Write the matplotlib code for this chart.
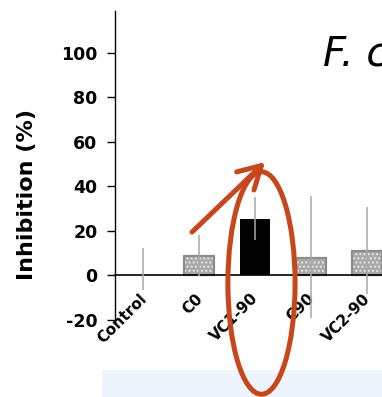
import matplotlib
matplotlib.use("Agg")
import matplotlib.pyplot as plt
from matplotlib.patches import Ellipse, Rectangle
from matplotlib.transforms import ScaledTranslation
import numpy as np

# --- datos ---
categorias = ["Control", "C0", "VC1-90", "C90", "VC2-90"]
inhibicion = [0.0, 8.7, 25.4, 7.9, 11.2]
error_abajo = [6.5, 9.0, 9.5, 27.0, 19.3]
error_arriba = [12.2, 9.3, 9.7, 27.6, 19.8]
destacado = "VC1-90"
titulo = "F. culmorum"

plt.rcParams["font.family"] = ["DejaVu Sans"]
plt.rcParams["axes.unicode_minus"] = False
plt.rcParams["hatch.linewidth"] = 1.0

rojo = "#C8461B"

fig = plt.figure(figsize=(3.82, 3.97), dpi=100)
ax = fig.add_axes([0.301, 0.194, 0.733, 0.779])
ax.set_facecolor("none")

x = np.arange(len(categorias))
for i, cat in enumerate(categorias):
    if inhibicion[i] == 0:
        continue
    if cat == destacado:
        ax.bar(x[i], inhibicion[i], width=0.54, color="black", zorder=2)
    else:
        # relleno punteado gris + borde
        ax.bar(x[i], inhibicion[i], width=0.54, facecolor="#a8a8a8",
               edgecolor="#e6e6e6", linewidth=0, hatch="....", zorder=2)
        ax.bar(x[i], inhibicion[i], width=0.54, fill=False,
               edgecolor="#8c8c8c", linewidth=1.6, zorder=2)

ax.errorbar(x, inhibicion, yerr=[error_abajo, error_arriba], fmt="none",
            ecolor="#a8a8a8", elinewidth=1.1, capsize=0, zorder=3)

ax.set_xlim(-0.5, 4.5)
ax.set_ylim(-20, 119)
ax.set_yticks([-20, 0, 20, 40, 60, 80, 100])
ax.set_ylabel("Inhibition (%)", fontsize=16, fontweight="bold")
ax.yaxis.set_label_coords(-0.279, 0.406)

# eje x cruzando en cero
ax.spines["bottom"].set_position(("data", 0))
ax.spines["bottom"].set_linewidth(1.2)
ax.spines["top"].set_visible(False)
ax.spines["right"].set_visible(False)
ax.spines["left"].set_linewidth(1.0)

ax.set_xticks(x)
ax.set_xticklabels(categorias, rotation=45, ha="right", va="top",
                   rotation_mode="anchor", fontweight="bold", fontsize=11)
ax.tick_params(axis="x", length=0, pad=11)
ax.tick_params(axis="y", length=5.5, width=1.0, pad=7, labelsize=12.5)
for lbl in ax.get_yticklabels():
    lbl.set_fontweight("bold")
desplazar = ScaledTranslation(-0.04, 0, fig.dpi_scale_trans)
for lbl in ax.get_xticklabels():
    lbl.set_transform(lbl.get_transform() + desplazar)

# titulo (especie)
fig.text(0.8455, 0.836, titulo, fontsize=29, fontstyle="italic",
         ha="left", va="baseline")

# marca roja sobre VC1-90
ax.add_patch(Ellipse((2.116, -3.4), 1.2, 100, fill=False, edgecolor=rojo,
                     linewidth=3.6, clip_on=False, zorder=6))
ax.annotate("", xy=(2.18, 51.0), xytext=(0.875, 19.5),
            arrowprops=dict(arrowstyle="->, head_length=0.8, head_width=0.45",
                            color=rojo, lw=3.6, mutation_scale=20,
                            shrinkA=0, shrinkB=0),
            annotation_clip=False, zorder=6)

# franja azul clara inferior
fig.add_artist(Rectangle((102 / 382, 0), 1.0, 27 / 397, transform=fig.transFigure,
                         facecolor="#EEF4FB", edgecolor="none", zorder=-1))

fig.savefig("out.png", dpi=100)
